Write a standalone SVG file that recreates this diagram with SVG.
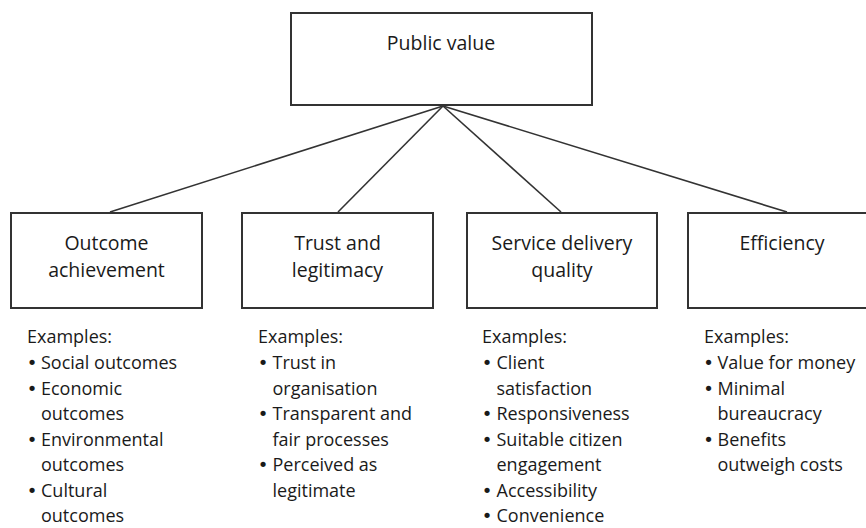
<svg xmlns="http://www.w3.org/2000/svg" width="866" height="528" viewBox="0 0 866 528">
<style>
.box{fill:#fff;stroke:#333;stroke-width:2}
.edge{stroke:#333;stroke-width:1.6;fill:none}
.h{font-family:"Open Sans","Noto Sans",sans-serif;font-size:19.5px;fill:#1a1a1a;text-anchor:middle}
.l{font-family:"Open Sans","Noto Sans",sans-serif;font-size:18px;fill:#1a1a1a}
.b{font-family:"DejaVu Sans",sans-serif;font-size:18px;fill:#1a1a1a;text-anchor:middle}
</style>
<rect width="866" height="528" fill="#fff"/>
<g id="connectors">
<line class="edge" x1="443" y1="106" x2="110" y2="212"/>
<line class="edge" x1="443" y1="106" x2="338" y2="212"/>
<line class="edge" x1="443" y1="106" x2="561" y2="212"/>
<line class="edge" x1="443" y1="106" x2="787" y2="212"/>
</g>
<g id="public-value">
<rect class="box" x="291" y="13" width="301" height="92"/>
<text class="h" x="441" y="50">Public value</text>
</g>
<g id="outcome">
<rect class="box" x="11" y="213" width="191" height="95"/>
<text class="h" x="106.5" y="250">Outcome</text>
<text class="h" x="106.5" y="277">achievement</text>
<text class="l" x="27" y="343">Examples:</text>
<text class="b" x="32" y="369">•</text><text class="l" x="41" y="369">Social outcomes</text>
<text class="b" x="32" y="394.5">•</text><text class="l" x="41" y="394.5">Economic</text>
<text class="l" x="41" y="420">outcomes</text>
<text class="b" x="32" y="445.5">•</text><text class="l" x="41" y="445.5">Environmental</text>
<text class="l" x="41" y="471">outcomes</text>
<text class="b" x="32" y="497">•</text><text class="l" x="41" y="497">Cultural</text>
<text class="l" x="41" y="522">outcomes</text>
</g>
<g id="trust">
<rect class="box" x="242" y="213" width="191" height="95"/>
<text class="h" x="337.5" y="250">Trust and</text>
<text class="h" x="337.5" y="277">legitimacy</text>
<text class="l" x="258" y="343">Examples:</text>
<text class="b" x="263" y="369">•</text><text class="l" x="272.5" y="369">Trust in</text>
<text class="l" x="272.5" y="394.5">organisation</text>
<text class="b" x="263" y="420">•</text><text class="l" x="272.5" y="420">Transparent and</text>
<text class="l" x="272.5" y="445.5">fair processes</text>
<text class="b" x="263" y="471">•</text><text class="l" x="272.5" y="471">Perceived as</text>
<text class="l" x="272.5" y="497">legitimate</text>
</g>
<g id="service">
<rect class="box" x="467" y="213" width="190" height="95"/>
<text class="h" x="562" y="250">Service delivery</text>
<text class="h" x="562" y="277">quality</text>
<text class="l" x="482" y="343">Examples:</text>
<text class="b" x="487" y="369">•</text><text class="l" x="496.5" y="369">Client</text>
<text class="l" x="496.5" y="394.5">satisfaction</text>
<text class="b" x="487" y="420">•</text><text class="l" x="496.5" y="420">Responsiveness</text>
<text class="b" x="487" y="445.5">•</text><text class="l" x="496.5" y="445.5">Suitable citizen</text>
<text class="l" x="496.5" y="471">engagement</text>
<text class="b" x="487" y="497">•</text><text class="l" x="496.5" y="497">Accessibility</text>
<text class="b" x="487" y="522">•</text><text class="l" x="496.5" y="522">Convenience</text>
</g>
<g id="efficiency">
<rect class="box" x="688" y="213" width="190" height="95"/>
<text class="h" x="782" y="250">Efficiency</text>
<text class="l" x="704" y="343">Examples:</text>
<text class="b" x="708.5" y="369">•</text><text class="l" x="717.5" y="369">Value for money</text>
<text class="b" x="708.5" y="394.5">•</text><text class="l" x="717.5" y="394.5">Minimal</text>
<text class="l" x="717.5" y="420">bureaucracy</text>
<text class="b" x="708.5" y="445.5">•</text><text class="l" x="717.5" y="445.5">Benefits</text>
<text class="l" x="717.5" y="471">outweigh costs</text>
</g>
</svg>
